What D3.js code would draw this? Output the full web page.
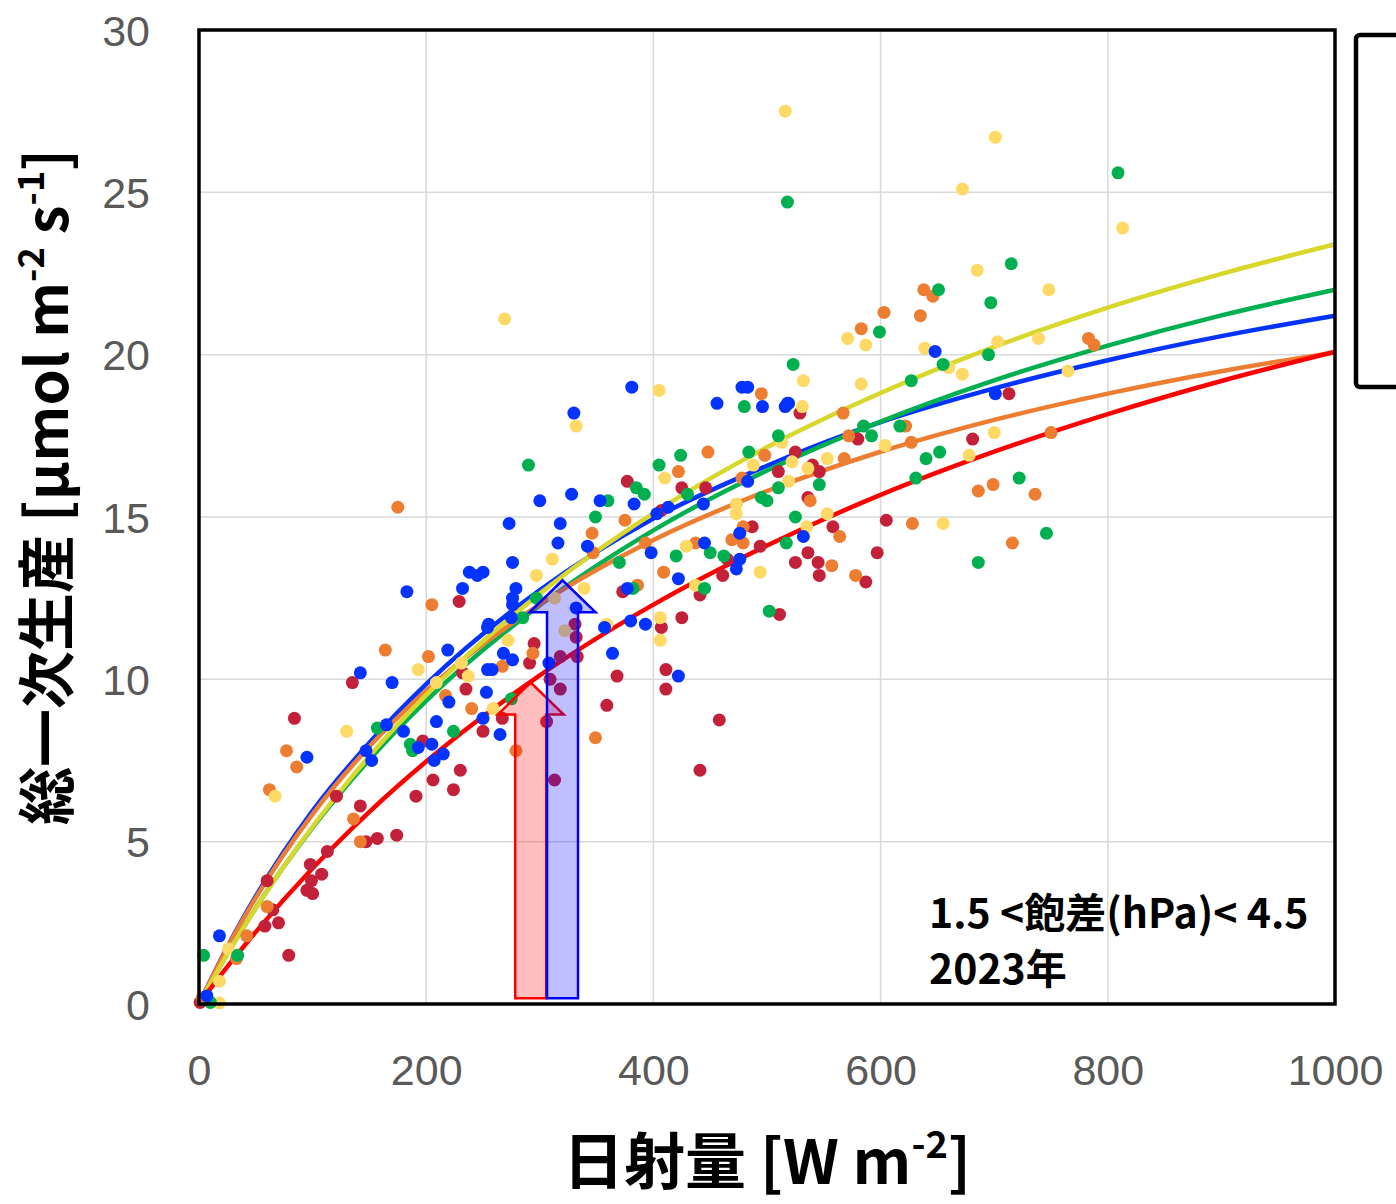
<!DOCTYPE html>
<html>
<head>
  <meta charset="utf-8">
  <script src="https://d3js.org/d3.v7.min.js"></script>
  <title>総一次生産と日射量</title>
  <style>
    body {margin: 0; background: #fff; overflow: hidden;}
    .tick-label {font-family: "Liberation Sans", Arial, sans-serif; font-size: 43px; fill: #595959;}
    .title {font-family: "Noto Sans CJK JP", sans-serif; font-weight: bold; fill: #000;}
  </style>
</head>
<body>
<div id="chart"></div>
<script>
  // scatter points [日射量, 総一次生産] per group
  const darkRedPts = [[135,9.9],[229,12.4],[235,9.7],[232,10.2],[84,8.8],[121,6.4],[142,6.1],[157,5.1],[174,5.2],[147,5.0],
    [113,4.7],[98,4.3],[108,4.0],[99,3.8],[95,3.5],[100,3.4],[60,3.8],[65,2.9],[58,2.4],[70,2.5],[79,1.5],[191,6.4],
    [206,6.9],[224,6.6],[230,7.2],[197,8.1],[250,8.4],[377,16.1],[425,15.9],[446,15.9],[407,15.2],[529,18.2],[525,17.0],
    [510,16.4],[540,16.6],[546,16.4],[536,15.6],[487,14.7],[494,14.1],[461,13.2],[465,13.7],[525,13.6],[536,13.9],
    [545,13.6],[546,13.2],[441,12.6],[373,12.7],[425,11.9],[511,12.0],[713,18.8],[580,17.4],[681,17.4],[558,14.7],
    [605,14.9],[597,13.9],[587,13.0],[295,11.1],[291,10.5],[267,8.8],[306,8.7],[309,10.0],[318,9.7],[318,10.7],
    [331,11.7],[332,11.3],[333,10.7],[313,6.9],[359,9.2],[368,10.1],[407,11.6],[411,10.3],[411,9.7],[458,8.75],
    [441,7.2],[1,0.05]];
  const orangePts = [[175,15.3],[205,12.3],[164,10.9],[202,10.7],[217,9.5],[77,7.8],[86,7.3],[62,6.6],[136,5.7],[142,5.0],
    [60,3.0],[42,2.1],[33,1.4],[240,9.1],[448,17.0],[495,18.8],[498,16.9],[422,16.4],[375,14.9],[346,14.5],[347,13.9],
    [393,14.2],[437,14.2],[409,13.3],[386,12.9],[469,14.3],[479,14.2],[479,14.7],[478,16.2],[538,15.5],[567,18.2],
    [572,17.5],[622,17.8],[568,16.8],[627,17.3],[750,17.6],[686,15.8],[699,16.0],[736,15.7],[628,14.8],[564,14.4],
    [716,14.2],[557,13.5],[578,13.2],[638,22.0],[646,21.8],[603,21.3],[635,21.2],[583,20.8],[783,20.5],[788,20.3],
    [294,10.8],[267,10.4],[279,7.8],[349,8.2],[3,0.2]];
  const yellowPts = [[516,27.5],[701,26.7],[672,25.1],[813,23.9],[685,22.6],[748,22.0],[269,21.1],[571,20.5],[587,20.3],
    [639,20.2],[739,20.5],[703,20.4],[765,19.5],[672,19.4],[583,19.1],[532,19.2],[405,18.9],[531,18.4],[700,17.6],
    [604,17.2],[660,19.6],[332,17.8],[410,16.2],[488,16.6],[513,17.3],[522,16.7],[473,15.4],[473,15.1],[519,16.1],
    [536,16.5],[535,14.7],[553,15.1],[429,14.1],[311,13.7],[297,13.2],[339,12.8],[494,13.3],[437,12.9],[406,11.9],
    [359,11.7],[553,16.8],[678,16.9],[655,14.8],[193,10.3],[209,9.9],[231,10.5],[237,10.1],[130,8.4],[67,6.4],
    [26,1.7],[18,0.7],[18,0.03],[272,11.2],[259,9.1],[313,12.5],[322,11.5],[406,11.2]];
  const greenPts = [[518,24.7],[809,25.6],[715,22.8],[651,22.0],[697,21.6],[599,20.7],[523,19.7],[627,19.2],[655,19.7],
    [695,20.0],[290,16.6],[480,18.4],[510,17.5],[484,17.0],[424,16.9],[405,16.6],[385,15.9],[392,15.7],[360,15.5],
    [430,15.7],[349,15.0],[495,15.6],[500,15.5],[510,15.9],[546,16.0],[525,15.0],[420,13.8],[450,13.9],[462,13.8],
    [370,13.6],[517,14.2],[445,12.8],[382,12.8],[297,12.5],[285,11.9],[502,12.1],[585,17.8],[592,17.5],[617,17.8],
    [640,16.8],[652,17.0],[631,16.2],[722,16.2],[746,14.5],[686,13.6],[157,8.5],[186,8.0],[188,7.8],[224,8.4],
    [4,1.5],[34,1.5],[10,0.05],[275,9.4]];
  const bluePts = [[183,12.7],[232,12.8],[245,13.2],[250,13.3],[219,10.9],[142,10.2],[170,9.9],[254,11.6],[254,10.3],
    [253,9.6],[381,19.0],[330,18.2],[478,19.0],[483,19.0],[456,18.5],[496,18.4],[516,18.4],[519,18.5],[300,15.5],
    [328,15.7],[353,15.5],[383,15.4],[273,14.8],[318,14.8],[316,14.2],[342,14.1],[403,15.1],[413,15.3],[444,15.4],
    [483,16.1],[398,13.9],[445,14.2],[476,14.5],[476,13.7],[473,13.4],[532,14.4],[422,13.1],[377,12.8],[276,13.6],
    [279,12.8],[276,12.5],[276,12.3],[275,11.9],[255,11.7],[332,12.2],[357,11.6],[380,11.8],[393,11.7],[268,10.8],
    [276,10.6],[258,10.3],[265,8.3],[250,8.8],[308,10.5],[364,10.8],[422,10.1],[95,7.6],[18,2.1],[7,0.25],[165,8.6],
    [147,7.8],[152,7.5],[180,8.4],[193,7.9],[205,8.0],[209,8.7],[215,7.7],[207,7.5],[220,9.3],[648,20.1],[701,18.8],
    [518,18.5],[238,13.3]];

  // trend curves, read at these x positions
  const fitX = [0,25,50,100,150,200,300,400,500,600,700,800,900,1000];
  const redFit    = [0,1.15,2.22,4.18,5.92,7.47,10.12,12.30,14.12,15.68,17.01,18.17,19.19,20.09];
  const orangeFit = [0,1.74,3.27,5.85,7.93,9.65,12.31,14.29,15.80,17.01,17.99,18.80,19.49,20.07];
  const blueFit   = [0,1.76,3.32,5.95,8.05,9.85,12.75,14.95,16.58,17.92,18.96,19.83,20.57,21.20];
  const greenFit  = [0,1.55,2.96,5.43,7.53,9.34,12.28,14.59,16.43,17.94,19.21,20.28,21.21,22.00];
  const yellowFit = [0,1.54,2.95,5.46,7.63,9.52,12.64,15.12,17.15,18.82,20.24,21.45,22.49,23.40];

  const xTicks = [0,200,400,600,800,1000];
  const yTicks = [0,5,10,15,20,25,30];

  // arrows: x position, tip value
  const arrowX = [292, 320];
  const arrowTip = [9.9, 13.05];
  const arrowBase = 0.18;

  const W = 1396, H = 1204;
  const svg = d3.select("#chart").append("svg").attr("width", W).attr("height", H);

  const x = d3.scaleLinear().domain([0, 1000]).range([199, 1335]);
  const y = d3.scaleLinear().domain([0, 30]).range([1004, 30]);

  /* gridlines */
  svg.append("g").selectAll("line").data(xTicks.slice(1, -1)).join("line")
    .attr("x1", d => x(d)).attr("x2", d => x(d)).attr("y1", y(0)).attr("y2", y(30))
    .attr("stroke", "#d9d9d9").attr("stroke-width", 1.5);
  svg.append("g").selectAll("line").data(yTicks.slice(1, -1)).join("line")
    .attr("y1", d => y(d)).attr("y2", d => y(d)).attr("x1", x(0)).attr("x2", x(1000))
    .attr("stroke", "#d9d9d9").attr("stroke-width", 1.5);

  /* axes tick labels */
  const xAxis = d3.axisBottom(x).tickValues(xTicks).tickFormat(d3.format("d")).tickSize(0).tickPadding(0);
  const gx = svg.append("g").attr("transform", `translate(0,${y(0)})`).call(xAxis);
  gx.select(".domain").remove();
  gx.selectAll("text").attr("class", "tick-label").attr("y", 66).attr("dy", "0.35em").attr("fill", null);

  const yAxis = d3.axisLeft(y).tickValues(yTicks).tickFormat(d3.format("d")).tickSize(0).tickPadding(0);
  const gy = svg.append("g").attr("transform", `translate(${x(0)},0)`).call(yAxis);
  gy.select(".domain").remove();
  gy.selectAll("text").attr("class", "tick-label").attr("x", -49).attr("dy", "0.35em").attr("fill", null);

  /* trend curves */
  const line = d3.line().x(d => x(d[0])).y(d => y(d[1])).curve(d3.curveMonotoneX);
  const fits = [
    {vals: blueFit, color: "#0433ff"},
    {vals: greenFit, color: "#00b050"},
    {vals: orangeFit, color: "#ed7d31"},
    {vals: yellowFit, color: "#d7d72c"},
    {vals: redFit, color: "#ff0000"}
  ];
  svg.append("g").selectAll("path").data(fits).join("path")
    .attr("d", f => line(fitX.map((v, i) => [v, f.vals[i]])))
    .attr("fill", "none").attr("stroke", f => f.color).attr("stroke-width", 4.5);

  /* scatter */
  const groups = [
    {pts: darkRedPts, color: "#c3203a"},
    {pts: orangePts, color: "#ed7d31"},
    {pts: yellowPts, color: "#ffd966"},
    {pts: greenPts, color: "#00b050"},
    {pts: bluePts, color: "#0433ff"}
  ];
  groups.forEach(g => {
    svg.append("g").selectAll("circle").data(g.pts).join("circle")
      .attr("cx", d => x(d[0])).attr("cy", d => y(d[1])).attr("r", 6.5)
      .attr("fill", g.color);
  });

  /* arrows */
  const shaftW = 31, headW = 66, headH = 32;
  const arrowCols = [{fill: "rgba(255,0,0,0.25)", stroke: "#ff0000"}, {fill: "rgba(0,0,255,0.25)", stroke: "#0000ff"}];
  arrowX.forEach((ax, i) => {
    const cx = x(ax), top = y(arrowTip[i]), bot = y(arrowBase);
    const pts = [
      [cx - shaftW / 2, bot], [cx - shaftW / 2, top + headH], [cx - headW / 2, top + headH], [cx, top],
      [cx + headW / 2, top + headH], [cx + shaftW / 2, top + headH], [cx + shaftW / 2, bot]
    ];
    svg.append("polygon").attr("points", pts.map(p => p.join(",")).join(" "))
      .attr("fill", arrowCols[i].fill).attr("stroke", arrowCols[i].stroke).attr("stroke-width", 2.5);
  });

  /* plot frame */
  svg.append("rect").attr("x", x(0)).attr("y", y(30)).attr("width", x(1000) - x(0)).attr("height", y(0) - y(30))
    .attr("fill", "none").attr("stroke", "#000").attr("stroke-width", 3.5);

  /* legend box (cut off on the right) */
  svg.append("rect").attr("x", 1356).attr("y", 35).attr("width", 120).attr("height", 352).attr("rx", 4)
    .attr("fill", "none").attr("stroke", "#000").attr("stroke-width", 4.5);

  /* annotation */
  const note = svg.append("text").attr("class", "title").attr("font-size", 41);
  note.append("tspan").attr("x", 929).attr("y", 928).text("1.5 <飽差(hPa)< 4.5");
  note.append("tspan").attr("x", 929).attr("y", 984).text("2023年");

  /* axis titles */
  const xt = svg.append("text").attr("class", "title").attr("font-size", 61)
    .attr("x", 767).attr("y", 1184).attr("text-anchor", "middle");
  xt.append("tspan").text("日射量 [W m");
  xt.append("tspan").attr("font-size", 38).attr("dy", -26).text("-2");
  xt.append("tspan").attr("dy", 26).text("]");

  const yt = svg.append("text").attr("class", "title").attr("font-size", 58)
    .attr("transform", "translate(68,487) rotate(-90)").attr("text-anchor", "middle");
  yt.append("tspan").text("総一次生産 [μmol m");
  yt.append("tspan").attr("font-size", 36).attr("dy", -24).text("-2");
  yt.append("tspan").attr("dy", 24).text(" s");
  yt.append("tspan").attr("font-size", 36).attr("dy", -24).text("-1");
  yt.append("tspan").attr("dy", 24).text("]");
</script>
</body>
</html>
